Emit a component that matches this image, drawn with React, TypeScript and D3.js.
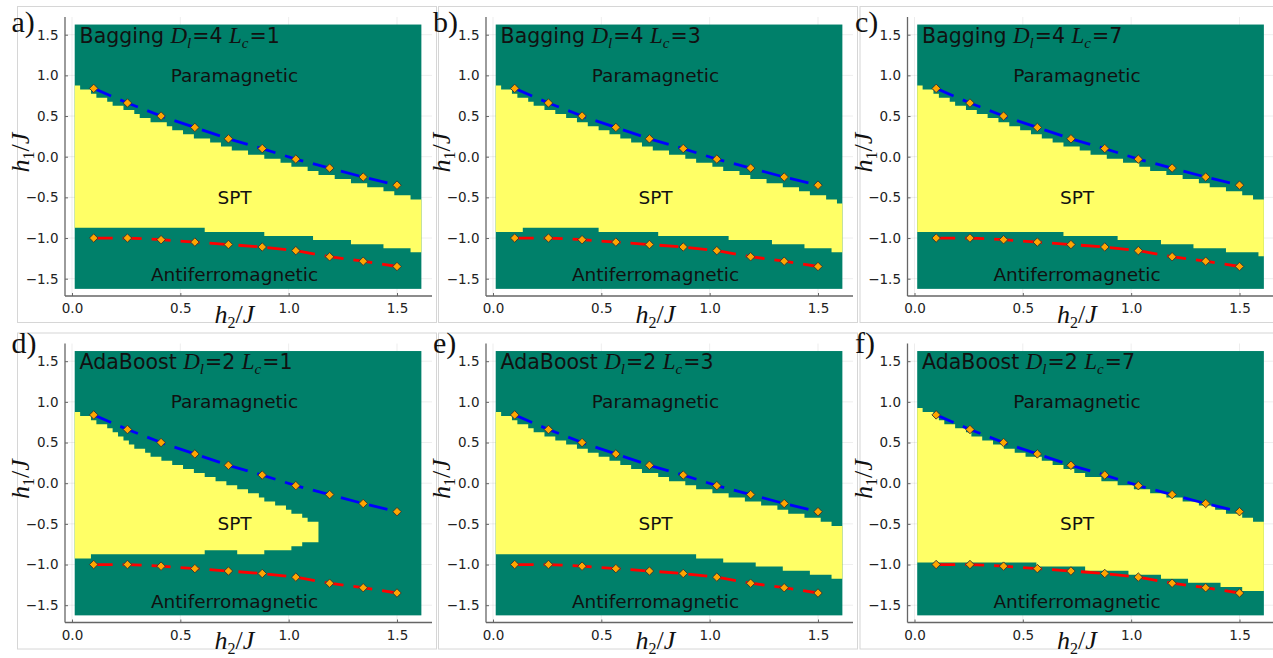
import { useEffect, useRef } from "react";
import * as d3 from "d3";

const letters = ["a)", "b)", "c)", "d)", "e)", "f)"];
const models = ["Bagging", "Bagging", "Bagging", "AdaBoost", "AdaBoost", "AdaBoost"];
const depths = [4, 4, 4, 2, 2, 2];
const layers = [1, 3, 7, 1, 3, 7];

// upper edge of the SPT region (h1) read at these h2 knots
const knotH2 = [0, 0.1, 0.2, 0.3, 0.4, 0.5, 0.6, 0.7, 0.8, 0.9, 1.0, 1.1, 1.2, 1.3, 1.4, 1.5, 1.6];
const upperA = [0.9, 0.775, 0.635, 0.525, 0.425, 0.325, 0.225, 0.14, 0.06, -0.01, -0.08, -0.16, -0.24, -0.31, -0.38, -0.45, -0.525];
const upperB = [0.9, 0.78, 0.64, 0.53, 0.43, 0.33, 0.23, 0.14, 0.06, -0.02, -0.09, -0.17, -0.25, -0.32, -0.39, -0.47, -0.56];
const upperC = [0.9, 0.78, 0.64, 0.53, 0.43, 0.33, 0.24, 0.15, 0.07, -0.01, -0.08, -0.15, -0.23, -0.3, -0.37, -0.44, -0.52];
const upperD = [0.9, 0.78, 0.63, 0.44, 0.32, 0.21, 0.11, 0.03, -0.09, -0.2, -0.32, -0.45, -0.6, -0.75, -0.9, -1.05, -1.2];
const upperE = [0.9, 0.78, 0.64, 0.53, 0.43, 0.33, 0.24, 0.15, 0.06, -0.02, -0.09, -0.16, -0.23, -0.3, -0.37, -0.44, -0.52];
const upperF = [0.95, 0.82, 0.68, 0.57, 0.47, 0.37, 0.28, 0.19, 0.1, 0.02, -0.04, -0.11, -0.17, -0.24, -0.31, -0.39, -0.47];

// lower edge of the SPT region: step levels between h2 breakpoints
const breaksA = [0.62, 0.9, 1.105, 1.28, 1.44, 1.57];
const levelsA = [-0.875, -0.925, -0.975, -1.025, -1.075, -1.125, -1.175];
const breaksB = [0.146, 0.477, 0.77, 1.077, 1.285, 1.438, 1.569];
const levelsB = [-0.925, -0.875, -0.925, -0.975, -1.025, -1.075, -1.125, -1.175];
const breaksC = [0.698, 0.929, 1.129, 1.283, 1.437, 1.591];
const levelsC = [-0.925, -0.975, -1.025, -1.075, -1.125, -1.175, -1.225];
const breaksD = [0.09, 0.62, 0.775, 0.88, 1.006, 1.07];
const levelsD = [-0.925, -0.875, -0.825, -0.875, -0.825, -0.775, -0.725];
const breaksE = [0.93, 1.054, 1.208, 1.338, 1.461, 1.569];
const levelsE = [-0.875, -0.925, -0.975, -1.025, -1.075, -1.125, -1.175];
const breaksF = [0.575, 0.798, 0.983, 1.129, 1.26, 1.406, 1.513];
const levelsF = [-0.975, -1.025, -1.075, -1.125, -1.175, -1.225, -1.275, -1.325];

// h2 beyond which no SPT cell is found
const sptLimit = [1.7, 1.7, 1.7, 1.1375, 1.7, 1.7];

const upperKnots = [upperA, upperB, upperC, upperD, upperE, upperF];
const lowerBreaks = [breaksA, breaksB, breaksC, breaksD, breaksE, breaksF];
const lowerLevels = [levelsA, levelsB, levelsC, levelsD, levelsE, levelsF];

// reference transition points
const pointH2 = [0.1, 0.256, 0.411, 0.567, 0.722, 0.878, 1.033, 1.189, 1.344, 1.5];
const upperLine = [0.84, 0.66, 0.5, 0.36, 0.22, 0.1, -0.03, -0.14, -0.25, -0.35];
const lowerLine = [-1.0, -1.0, -1.02, -1.05, -1.08, -1.11, -1.155, -1.23, -1.285, -1.35];

const xTicks = [0, 0.5, 1.0, 1.5];
const yTicks = [-1.5, -1.0, -0.5, 0, 0.5, 1.0, 1.5];
const phaseNames = ["Paramagnetic", "SPT", "Antiferromagnetic"];
const phaseH1 = [1.0, -0.5, -1.45];

const green = "#00806a";
const yellow = "#ffff66";
const serif = "Liberation Serif, DejaVu Serif, serif";
const sans = "DejaVu Sans, sans-serif";

type Col = { h: number; top: number; bot: number };

export default function App() {
  const ref = useRef<SVGSVGElement>(null);

  useEffect(() => {
    const svg = d3.select(ref.current);
    svg.selectAll("*").remove();

    const colX = [17, 438, 859.5];
    const rowY = [6, 332.5];
    const letterX = [11.5, 433, 855];
    const letterY = [31.5, 353];

    const x = d3.scaleLinear().domain([0, 1.5]).range([55, 380]);
    const y = d3.scaleLinear().domain([-1.5, 1.5]).range([272.7, 28.7]);

    // heatmap grid centres
    const cols = d3.range(1, 65).map((k) => k * 0.025);
    const rows = d3.range(0, 65).map((j) => -1.6 + j * 0.05);
    const dh2 = 0.0125;
    const dh1 = 0.025;

    letters.forEach((_, i) => {
      const p = svg
        .append("g")
        .attr("transform", `translate(${colX[i % 3]},${rowY[Math.floor(i / 3)]})`);

      p.append("rect")
        .attr("x", 0.5)
        .attr("y", 0.5)
        .attr("width", 419)
        .attr("height", 316)
        .attr("fill", "none")
        .attr("stroke", "#d6d6d6");

      // faint grid
      p.selectAll("line.gx")
        .data(xTicks)
        .join("line")
        .attr("x1", (d) => x(d))
        .attr("x2", (d) => x(d))
        .attr("y1", 11)
        .attr("y2", 290)
        .attr("stroke", "#000")
        .attr("stroke-opacity", 0.07);
      p.selectAll("line.gy")
        .data(yTicks)
        .join("line")
        .attr("x1", 48)
        .attr("x2", 415)
        .attr("y1", (d) => y(d))
        .attr("y2", (d) => y(d))
        .attr("stroke", "#000")
        .attr("stroke-opacity", 0.07);

      // heatmap
      p.append("rect")
        .attr("x", x(cols[0] - dh2))
        .attr("y", y(rows[rows.length - 1] + dh1))
        .attr("width", x(cols[cols.length - 1] + dh2) - x(cols[0] - dh2))
        .attr("height", y(rows[0] - dh1) - y(rows[rows.length - 1] + dh1))
        .attr("fill", green);

      const upperAt = d3.scaleLinear().domain(knotH2).range(upperKnots[i]);
      const lowerAt = (h: number) => lowerLevels[i][d3.bisectRight(lowerBreaks[i], h)];
      const spt: Col[] = [];
      cols.forEach((c) => {
        if (c > sptLimit[i]) return;
        const inside = rows.filter((r) => r > lowerAt(c) && r < upperAt(c));
        if (!inside.length) return;
        const top = d3.max(inside) as number;
        const bot = d3.min(inside) as number;
        spt.push({ h: c - dh2, top, bot }, { h: c + dh2, top, bot });
      });

      const area = d3
        .area<Col>()
        .x((d) => x(d.h))
        .y0((d) => y(d.bot - dh1))
        .y1((d) => y(d.top + dh1));
      p.append("path").attr("d", area(spt)).attr("fill", yellow);

      // axes
      const ya = p
        .append("g")
        .attr("transform", "translate(48,0)")
        .call(
          d3.axisLeft(y).tickValues(yTicks).tickFormat(d3.format(".1f")).tickSizeInner(-3).tickSizeOuter(0).tickPadding(6.5)
        );
      const xa = p
        .append("g")
        .attr("transform", "translate(0,290)")
        .call(
          d3.axisBottom(x).tickValues(xTicks).tickFormat(d3.format(".1f")).tickSizeInner(-3).tickSizeOuter(0).tickPadding(7.7)
        );
      [ya, xa].forEach((a) => {
        a.select(".domain").remove();
        a.selectAll("line").attr("stroke", "#666");
        a.selectAll("text").attr("font-family", sans).attr("font-size", 13.5).attr("fill", "#222");
      });
      p.append("line").attr("x1", 48).attr("x2", 48).attr("y1", 11).attr("y2", 290).attr("stroke", "#666").attr("stroke-width", 1.3);
      p.append("line").attr("x1", 48).attr("x2", 415).attr("y1", 290).attr("y2", 290).attr("stroke", "#666").attr("stroke-width", 1.3);

      // transition lines with markers
      const line = d3
        .line<number>()
        .x((_, k) => x(pointH2[k]))
        .y((d) => y(d));
      [
        { vals: upperLine, color: "#0000ff" },
        { vals: lowerLine, color: "#ff0000" },
      ].forEach((s) => {
        p.append("path")
          .attr("d", line(s.vals))
          .attr("fill", "none")
          .attr("stroke", s.color)
          .attr("stroke-width", 2.8)
          .attr("stroke-dasharray", "19 10");
        p.append("g")
          .selectAll("path")
          .data(s.vals)
          .join("path")
          .attr("transform", (d, k) => `translate(${x(pointH2[k])},${y(d)})`)
          .attr("d", d3.symbol(d3.symbolDiamond2, 46)())
          .attr("fill", "#ffa500")
          .attr("stroke", "#333")
          .attr("stroke-width", 0.9);
      });

      // phase names
      p.selectAll("text.phase")
        .data(phaseNames)
        .join("text")
        .attr("x", x(0.75))
        .attr("y", (_, k) => y(phaseH1[k]))
        .attr("dy", "0.35em")
        .attr("text-anchor", "middle")
        .attr("font-family", sans)
        .attr("font-size", 18.5)
        .attr("fill", "#111")
        .text((d) => d);

      // title
      const t = p
        .append("text")
        .attr("x", x(0.035))
        .attr("y", y(1.4))
        .attr("font-family", sans)
        .attr("font-size", 20.5)
        .attr("fill", "#111");
      t.append("tspan").text(models[i] + " ");
      t.append("tspan").attr("font-family", serif).attr("font-style", "italic").attr("font-size", 23).text("D");
      t.append("tspan").attr("font-family", serif).attr("font-style", "italic").attr("font-size", 15).attr("dy", 5).text("l");
      t.append("tspan").attr("dy", -5).attr("dx", 1).text(`=${depths[i]} `);
      t.append("tspan").attr("font-family", serif).attr("font-style", "italic").attr("font-size", 23).text("L");
      t.append("tspan").attr("font-family", serif).attr("font-style", "italic").attr("font-size", 15).attr("dy", 5).text("c");
      t.append("tspan").attr("dy", -5).attr("dx", 1).text(`=${layers[i]}`);

      // axis labels
      const axisLabel = (sel: any, sub: string) => {
        sel.append("tspan").attr("font-style", "italic").text("h");
        sel.append("tspan").attr("font-size", 16).attr("dy", 5).text(sub);
        sel.append("tspan").attr("dy", -5).text("/");
        sel.append("tspan").attr("font-style", "italic").text("J");
      };
      const xl = p
        .append("text")
        .attr("x", x(0.75))
        .attr("y", 316.5)
        .attr("text-anchor", "middle")
        .attr("font-family", serif)
        .attr("font-size", 26)
        .attr("fill", "#111");
      axisLabel(xl, "2");
      const yl = p
        .append("text")
        .attr("transform", `translate(12,146.5) rotate(-90)`)
        .attr("text-anchor", "middle")
        .attr("font-family", serif)
        .attr("font-size", 26)
        .attr("fill", "#111");
      axisLabel(yl, "1");
    });

    svg
      .selectAll("text.letter")
      .data(letters)
      .join("text")
      .attr("x", (_, i) => letterX[i % 3])
      .attr("y", (_, i) => letterY[Math.floor(i / 3)])
      .attr("font-family", serif)
      .attr("font-size", 30)
      .attr("fill", "#111")
      .text((d) => d);
  }, []);

  return (
    <svg
      ref={ref}
      width={1273}
      height={658}
      style={{ position: "absolute", left: 0, top: 0, background: "#fff" }}
    />
  );
}
